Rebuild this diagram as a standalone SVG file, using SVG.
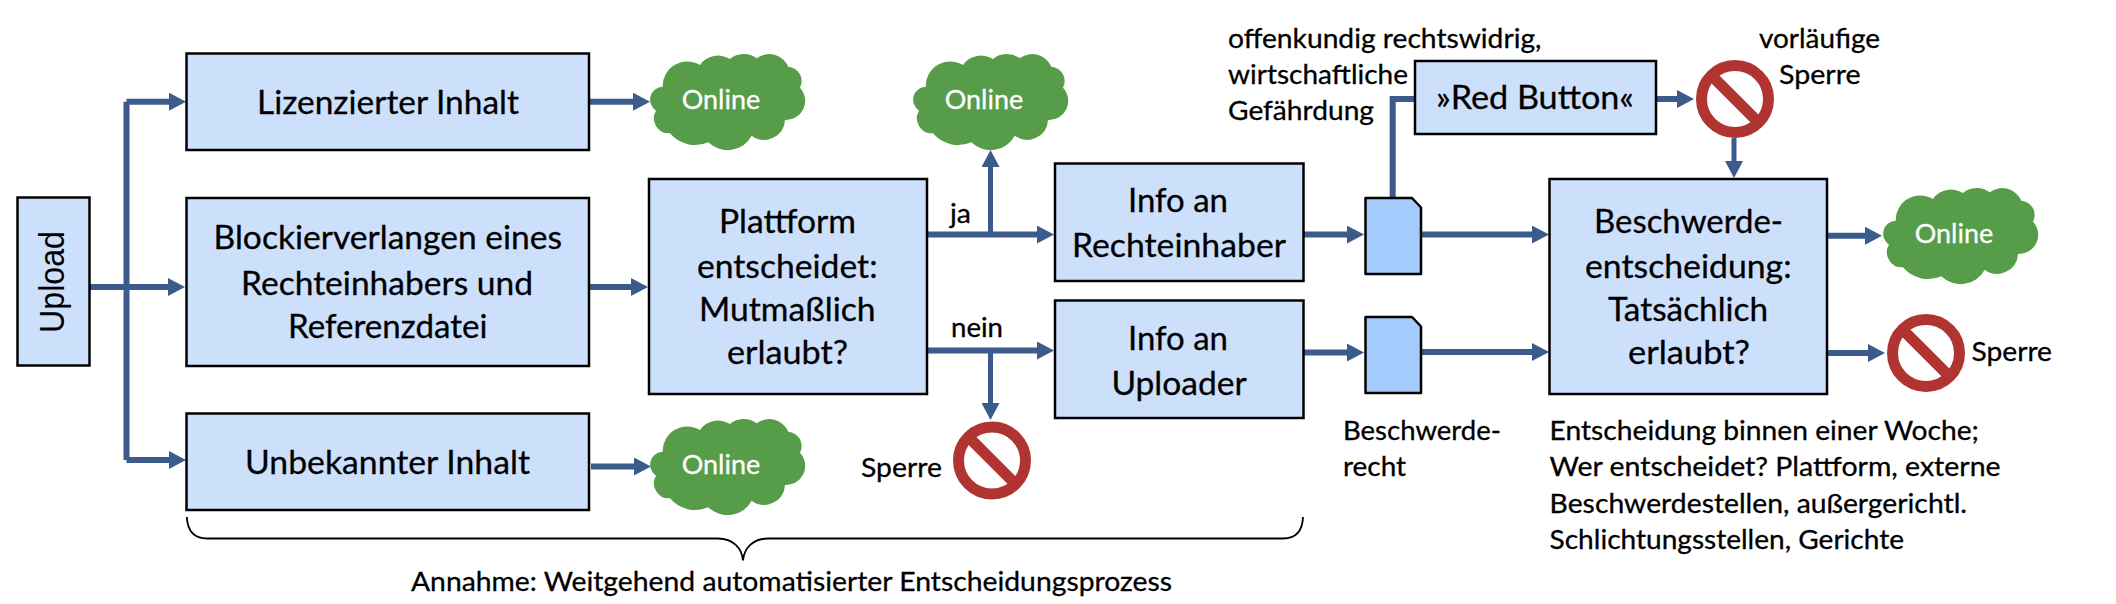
<svg xmlns="http://www.w3.org/2000/svg" width="2116" height="604" viewBox="0 0 2116 604">
<style>
.box{fill:#CDE0FB;stroke:#000;stroke-width:2.5}
.doc{fill:#A4CBFB;stroke:#000;stroke-width:2.5;stroke-linejoin:round}
.cloud{fill:#569C49}
.ring{fill:none;stroke:#B03431;stroke-width:11}
.slash{stroke:#B03431;stroke-width:11}
.c{fill:none;stroke:#3C5A8C;stroke-width:6}
.a{marker-end:url(#arr)}
.brace{fill:none;stroke:#000;stroke-width:1.8}
text{font-family:Lato,"Liberation Sans",sans-serif;fill:#000;stroke:#000;stroke-width:.3}
.l{font-size:33px}
.s{font-size:27.5px}
.w{fill:#fff;stroke:#fff;font-size:27.5px}
.u{font-family:"Liberation Sans",Arial,sans-serif;font-size:35px;stroke-width:0}
</style>
<defs>
<marker id="arr" markerUnits="userSpaceOnUse" markerWidth="17" markerHeight="18" refX="3" refY="9" orient="auto"><path d="M0 0L17 9L0 18Z" fill="#3C5A8C"/></marker>
<path id="cl" class="cloud" d="M13.7 32.700A24.600 24.600 0 0 1 51 11A22 22 0 0 1 81 5A21.700 21.700 0 0 1 107.700 4.300A20.700 20.700 0 0 1 139.300 12.700A14.300 14.300 0 0 1 151 33.700A19.200 19.200 0 0 1 136 66A20.900 20.900 0 0 1 102.700 81.700A27.400 27.400 0 0 1 59.300 88.300A33 33 0 0 1 21 79.300A15 15 0 0 1 7 56.700A13.100 13.100 0 0 1 13.700 32.700Z"/>
<g id="no"><circle class="ring" r="33.5"/><line class="slash" x1="-25" y1="-25" x2="25" y2="25"/></g>
</defs>
<g id="connectors">
<path class="c" d="M89 287H126.500M126.500 101.700V460"/>
<path class="c a" d="M126.500 101.700H172"/>
<path class="c a" d="M89 287H171"/>
<path class="c a" d="M126.500 460H172"/>
<path class="c a" d="M589 101.700H636"/>
<path class="c a" d="M591 466.500H637"/>
<path class="c a" d="M589 287H634"/>
<path class="c a" d="M927 234.600H1040"/>
<path class="c a" d="M927 350.500H1040"/>
<path class="c a" style="stroke-width:5" d="M990.500 234.600V164"/>
<path class="c a" style="stroke-width:5" d="M990.500 350.500V406"/>
<path class="c a" d="M1303.500 234.600H1350"/>
<path class="c a" d="M1303.500 352.500H1350"/>
<path class="c a" d="M1421 234.600H1535"/>
<path class="c a" d="M1421 352H1535"/>
<path class="c" d="M1392.700 198V99H1415"/>
<path class="c a" d="M1656 99H1680"/>
<path class="c a" style="stroke-width:5" d="M1734 138V164"/>
<path class="c a" d="M1827 235.700H1868"/>
<path class="c a" d="M1827 353H1871"/>
</g>
<g id="upload"><rect class="box" x="17.500" y="197.500" width="72" height="168"/><text class="u" transform="translate(64 333) rotate(-90)" textLength="102" lengthAdjust="spacingAndGlyphs">Upload</text></g>
<g id="lizenz"><rect class="box" x="186.500" y="53.500" width="402.500" height="96.500"/><text class="l" x="257" y="114" textLength="262" lengthAdjust="spacingAndGlyphs">Lizenzierter Inhalt</text></g>
<g id="block"><rect class="box" x="186.500" y="198" width="402.500" height="168"/>
<text class="l" x="213.600" y="249.400" textLength="348.400" lengthAdjust="spacingAndGlyphs">Blockierverlangen eines</text>
<text class="l" x="241" y="295" textLength="292" lengthAdjust="spacingAndGlyphs">Rechteinhabers und</text>
<text class="l" x="288" y="338.300" textLength="199.500" lengthAdjust="spacingAndGlyphs">Referenzdatei</text></g>
<g id="unbekannt"><rect class="box" x="186.500" y="413.500" width="402.500" height="96.500"/><text class="l" x="245" y="474" textLength="285" lengthAdjust="spacingAndGlyphs">Unbekannter Inhalt</text></g>
<g id="plattform"><rect class="box" x="649" y="179" width="278" height="215"/>
<text class="l" x="719" y="233" textLength="137" lengthAdjust="spacingAndGlyphs">Plattform</text>
<text class="l" x="697" y="278" textLength="180.600" lengthAdjust="spacingAndGlyphs">entscheidet:</text>
<text class="l" x="699" y="321" textLength="176.600" lengthAdjust="spacingAndGlyphs">Mutmaßlich</text>
<text class="l" x="727" y="364" textLength="121" lengthAdjust="spacingAndGlyphs">erlaubt?</text></g>
<g id="inforecht"><rect class="box" x="1055" y="163.500" width="248.500" height="117.500"/>
<text class="l" x="1128" y="211.500" textLength="100" lengthAdjust="spacingAndGlyphs">Info an</text>
<text class="l" x="1072" y="257" textLength="214" lengthAdjust="spacingAndGlyphs">Rechteinhaber</text></g>
<g id="infoupload"><rect class="box" x="1055" y="300.500" width="248.500" height="117.500"/>
<text class="l" x="1128" y="350" textLength="100" lengthAdjust="spacingAndGlyphs">Info an</text>
<text class="l" x="1111.400" y="395" textLength="135.300" lengthAdjust="spacingAndGlyphs">Uploader</text></g>
<g id="redbutton"><rect class="box" x="1415" y="61" width="241" height="73"/><text class="l" x="1436" y="108.600" textLength="198" lengthAdjust="spacingAndGlyphs">»Red Button«</text></g>
<g id="beschwerde"><rect class="box" x="1549.500" y="179" width="277.500" height="215"/>
<text class="l" x="1594" y="233" textLength="189" lengthAdjust="spacingAndGlyphs">Beschwerde-</text>
<text class="l" x="1585" y="278" textLength="206.600" lengthAdjust="spacingAndGlyphs">entscheidung:</text>
<text class="l" x="1608" y="321" textLength="160" lengthAdjust="spacingAndGlyphs">Tatsächlich</text>
<text class="l" x="1628" y="364" textLength="122" lengthAdjust="spacingAndGlyphs">erlaubt?</text></g>
<g id="doc1"><path class="doc" d="M1365.500 198H1412L1421 207.500V274H1365.500Z"/></g>
<g id="doc2"><path class="doc" d="M1365.500 317H1412L1421 326.500V393H1365.500Z"/></g>
<g id="online1"><use href="#cl" x="649" y="54"/><text class="w" x="681.700" y="108.500" textLength="78.500" lengthAdjust="spacingAndGlyphs">Online</text></g>
<g id="online2"><use href="#cl" x="912" y="54"/><text class="w" x="944.700" y="108.500" textLength="78.500" lengthAdjust="spacingAndGlyphs">Online</text></g>
<g id="online3"><use href="#cl" x="649" y="419"/><text class="w" x="681.700" y="473.500" textLength="78.500" lengthAdjust="spacingAndGlyphs">Online</text></g>
<g id="online4"><use href="#cl" x="1882" y="188"/><text class="w" x="1914.700" y="242.500" textLength="78.500" lengthAdjust="spacingAndGlyphs">Online</text></g>
<g id="sperre1"><use href="#no" x="992" y="460.500"/><text class="s" x="861" y="477" textLength="81" lengthAdjust="spacingAndGlyphs">Sperre</text></g>
<g id="sperre2"><use href="#no" x="1735" y="99"/><text class="s" x="1759" y="48" textLength="121" lengthAdjust="spacingAndGlyphs">vorläufige</text><text class="s" x="1779" y="84" textLength="81.600" lengthAdjust="spacingAndGlyphs">Sperre</text></g>
<g id="sperre3"><use href="#no" x="1926" y="353"/><text class="s" x="1971.500" y="361" textLength="80.500" lengthAdjust="spacingAndGlyphs">Sperre</text></g>
<g id="labels">
<text class="s" x="950" y="222.600" textLength="21" lengthAdjust="spacingAndGlyphs">ja</text>
<text class="s" x="951" y="337" textLength="52" lengthAdjust="spacingAndGlyphs">nein</text>
<text class="s" x="1228" y="48" textLength="313.500" lengthAdjust="spacingAndGlyphs">offenkundig rechtswidrig,</text>
<text class="s" x="1228" y="84" textLength="180" lengthAdjust="spacingAndGlyphs">wirtschaftliche</text>
<text class="s" x="1228" y="120" textLength="146" lengthAdjust="spacingAndGlyphs">Gefährdung</text>
<text class="s" x="1343" y="439.500" textLength="158" lengthAdjust="spacingAndGlyphs">Beschwerde-</text>
<text class="s" x="1343" y="476" textLength="63" lengthAdjust="spacingAndGlyphs">recht</text>
<text class="s" x="1549.600" y="439.500" textLength="429.400" lengthAdjust="spacingAndGlyphs">Entscheidung binnen einer Woche;</text>
<text class="s" x="1549.600" y="476" textLength="451" lengthAdjust="spacingAndGlyphs">Wer entscheidet? Plattform, externe</text>
<text class="s" x="1549.600" y="512.700" textLength="417.400" lengthAdjust="spacingAndGlyphs">Beschwerdestellen, außergerichtl.</text>
<text class="s" x="1549.600" y="548.500" textLength="354.400" lengthAdjust="spacingAndGlyphs">Schlichtungsstellen, Gerichte</text>
<text class="s" x="411" y="591" textLength="761" lengthAdjust="spacingAndGlyphs">Annahme: Weitgehend automatisierter Entscheidungsprozess</text>
</g>
<g id="brace"><path class="brace" d="M186.800 517C187.500 530 193 538.500 207 538.500H718C733 538.500 742 548 743 560.500C744 548 753 538.500 768 538.500H1283C1297 538.500 1302.500 530 1303 517"/></g>
</svg>
